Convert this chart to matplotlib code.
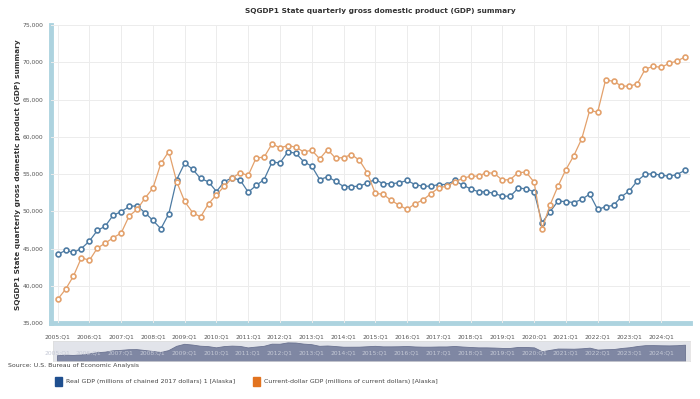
import matplotlib
matplotlib.use('Agg')
import matplotlib.pyplot as plt
from matplotlib.patches import Rectangle
import numpy as np

# quarters 2005:Q1 .. 2024:Q4
years = list(range(2005, 2025))
quarters = [str(y) + ":Q" + str(q) for y in years for q in range(1, 5)]

# Real GDP (millions of chained 2017 dollars), Alaska
real_gdp = [44210, 44740, 44480, 45000, 45990, 47420, 48000, 49480, 49930, 50640,
            50740, 49800, 48770, 47650, 49660, 54260, 56450, 55640, 54400, 53950,
            52650, 53990, 54490, 54170, 52560, 53460, 54260, 56580, 56500, 57970,
            57790, 56640, 56050, 54260, 54620, 54030, 53320, 53320, 53360, 53820,
            54260, 53690, 53690, 53820, 54130, 53590, 53360, 53360, 53590, 53590,
            54130, 53500, 53020, 52610, 52610, 52390, 52020, 52020, 53100, 53020,
            52610, 48460, 49930, 51350, 51300, 51160, 51600, 52300, 50240, 50600,
            50800, 51960, 52740, 54080, 54970, 55030, 54840, 54710, 54930, 55510]

# Current-dollar GDP (millions of current dollars), Alaska
nominal_gdp = [38170, 39520, 41310, 43770, 43400, 45050, 45720, 46450, 47070, 49350,
               50240, 51760, 53100, 56410, 58020, 53950, 51310, 49820, 49240, 51000,
               52210, 53360, 54490, 55160, 54800, 57170, 57250, 59050, 58510, 58820,
               58590, 57970, 58190, 57040, 58280, 57120, 57210, 57610, 56850, 55160,
               52390, 52290, 51450, 50820, 50240, 51010, 51510, 52360, 53150, 53360,
               53950, 54400, 54710, 54710, 55200, 55070, 54170, 54260, 55200, 55240,
               53900, 47650, 50820, 53360, 55580, 57460, 59740, 63550, 63290, 67620,
               67440, 66820, 66770, 67130, 69100, 69450, 69320, 69850, 70170, 70710]

title = "SQGDP1 State quarterly gross domestic product (GDP) summary"
blue = "#4d7ba3"
orange = "#e3a16c"

x = np.arange(len(quarters))
year_ticks = x[::4]
year_labels = quarters[::4]

fig = plt.figure(figsize=(7, 3.99), dpi=100)
W, H = 700.0, 399.0

ax = fig.add_axes([51.5 / W, 1 - 323 / H, 638.5 / W, 298 / H])
ax.plot(x, real_gdp, color=blue, lw=0.9, marker='o', ms=3.5, mfc='white', mec=blue, mew=1.2)
ax.plot(x, nominal_gdp, color=orange, lw=0.9, marker='o', ms=3.5, mfc='white', mec=orange, mew=1.2)
ax.set_xlim(-0.77, 79.63)
ax.set_ylim(35000, 75000)
ax.set_yticks(range(35000, 75001, 5000))
ax.set_yticklabels([f"{v:,}" for v in range(35000, 75001, 5000)])
ax.set_xticks(year_ticks)
ax.set_xticklabels(year_labels)
ax.tick_params(length=0, labelsize=4.3, labelcolor='#555555')
ax.tick_params(axis='y', pad=6)
ax.tick_params(axis='x', pad=8)
ax.grid(True, color='#ececec', lw=0.7)
ax.set_axisbelow(True)
for s in ['top', 'right']:
    ax.spines[s].set_visible(False)
for s in ['left', 'bottom']:
    ax.spines[s].set_color('#add3df')
    ax.spines[s].set_linewidth(3.5)
    ax.spines[s].set_zorder(0.5)

fig.text(380 / W, 1 - 11 / H, title, ha='center', va='center', fontsize=5.3,
         fontweight='bold', color='#333333')
fig.text(18 / W, 1 - 175 / H, title, ha='center', va='center', rotation=90,
         fontsize=5.3, fontweight='bold', color='#333333')

# navigator strip
nav = fig.add_axes([53 / W, 1 - 361 / H, 637 / W, 20 / H])
nav.set_facecolor('#e2e4ea')
nav.fill_between(x, real_gdp, 30000, color='#7f87a3', lw=0.6, edgecolor='#6a7290')
nav.set_xlim(-0.5, 79.63)
nav.set_ylim(37980, 59450)
nav.set_xticks([])
nav.set_yticks([])
for s in nav.spines.values():
    s.set_color('#dddddd')
    s.set_linewidth(0.5)
for t, lab in zip(year_ticks, year_labels):
    nav.text(t, 46500, lab, ha='center', va='center', fontsize=4.3, color='#c5c9d6')

fig.text(8 / W, 1 - 366 / H, "Source: U.S. Bureau of Economic Analysis", ha='left',
         va='center', fontsize=4.5, color='#444444')

fig.patches.append(Rectangle((55 / W, 1 - 386 / H), 7 / W, 9 / H, transform=fig.transFigure,
                             color='#1f4f8f'))
fig.text(66 / W, 1 - 381 / H, "Real GDP (millions of chained 2017 dollars) 1 [Alaska]",
         ha='left', va='center', fontsize=4.5, color='#444444')
fig.patches.append(Rectangle((253 / W, 1 - 386 / H), 7 / W, 9 / H, transform=fig.transFigure,
                             color='#e2731f'))
fig.text(264 / W, 1 - 381 / H, "Current-dollar GDP (millions of current dollars) [Alaska]",
         ha='left', va='center', fontsize=4.5, color='#444444')

fig.savefig('out.png', dpi=100)
